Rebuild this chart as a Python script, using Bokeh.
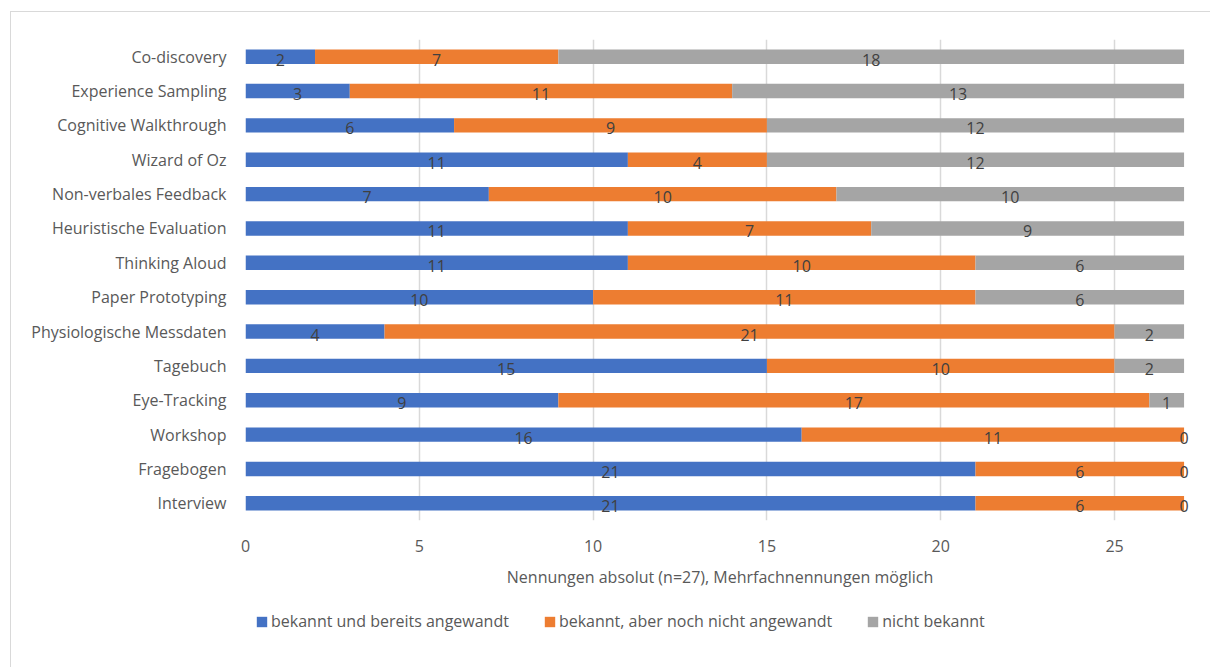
from bokeh.plotting import figure
from bokeh.layouts import column
from bokeh.models import (ColumnDataSource, FactorRange, Legend, LegendItem,
                          FixedTicker, Range1d)
from bokeh.core.properties import value
from bokeh.embed import file_html
from bokeh.resources import INLINE

# Methods, listed from top to bottom
methods = ["Co-discovery", "Experience Sampling", "Cognitive Walkthrough",
           "Wizard of Oz", "Non-verbales Feedback", "Heuristische Evaluation",
           "Thinking Aloud", "Paper Prototyping", "Physiologische Messdaten",
           "Tagebuch", "Eye-Tracking", "Workshop", "Fragebogen", "Interview"]

angewandt = [2, 3, 6, 11, 7, 11, 11, 10, 4, 15, 9, 16, 21, 21]
nicht_angewandt = [7, 11, 9, 4, 10, 7, 10, 11, 21, 10, 17, 11, 6, 6]
nicht_bekannt = [18, 13, 12, 12, 10, 9, 6, 6, 2, 2, 1, 0, 0, 0]

series_names = ["bekannt und bereits angewandt",
                "bekannt, aber noch nicht angewandt",
                "nicht bekannt"]
series_values = [angewandt, nicht_angewandt, nicht_bekannt]
colors = ["#4472C4", "#ED7D31", "#A5A5A5"]

x_ticks = [0, 5, 10, 15, 20, 25]
x_max = 27
x_room = 0.3  # room right of the bars so end labels are not cut

FONT = "Open Sans"
TEXT = "#595959"

p = figure(width=1199, height=580, output_backend="svg", toolbar_location=None,
           y_range=FactorRange(factors=list(reversed(methods)), range_padding=0),
           x_range=Range1d(0, x_max + x_room),
           min_border_left=234, min_border_right=16,
           min_border_top=27, min_border_bottom=72)
p.outline_line_color = None
p.background_fill_color = "white"
p.border_fill_color = "white"

# Stacked horizontal bars, drawn segment by segment with labels
left = [0] * len(methods)
for name, vals, col in zip(series_names, series_values, colors):
    right = [l + v for l, v in zip(left, vals)]
    src = ColumnDataSource(dict(
        y=methods, left=left, right=right,
        mid=[(l + r) / 2 for l, r in zip(left, right)],
        lab=[str(v) for v in vals]))
    p.hbar(y="y", left="left", right="right", height=0.42, source=src,
           fill_color=col, line_color=None)
    p.text(x="mid", y="y", text="lab", source=src, text_align="center",
           text_baseline="middle", y_offset=3, text_color="#404040",
           text_font=value(FONT), text_font_size="16px")
    left = right

# Axes
p.xaxis.ticker = FixedTicker(ticks=x_ticks)
p.xaxis.axis_line_color = None
p.xaxis.major_tick_line_color = None
p.xaxis.minor_tick_line_color = None
p.xaxis.major_label_text_font = FONT
p.xaxis.major_label_text_font_size = "16px"
p.xaxis.major_label_text_color = TEXT
p.xaxis.major_label_standoff = 13
p.xaxis.axis_label = "Nennungen absolut (n=27), Mehrfachnennungen möglich"
p.xaxis.axis_label_text_font = FONT
p.xaxis.axis_label_text_font_size = "16px"
p.xaxis.axis_label_text_font_style = "normal"
p.xaxis.axis_label_text_color = TEXT
p.xaxis.axis_label_standoff = 11

p.yaxis.axis_line_color = None
p.yaxis.major_tick_line_color = None
p.yaxis.minor_tick_line_color = None
p.yaxis.major_label_text_font = FONT
p.yaxis.major_label_text_font_size = "16px"
p.yaxis.major_label_text_color = TEXT
p.yaxis.major_label_standoff = 13

p.ygrid.grid_line_color = None
p.xgrid.grid_line_color = "#D9D9D9"
p.xgrid.grid_line_width = 1.5
p.xgrid.ticker = FixedTicker(ticks=x_ticks)

# Legend strip under the chart (its frame lines up with the chart frame).
# Each swatch renderer holds a single zero-width bar, so only the legend
# entry is visible.
lg = figure(width=1199, height=75, output_backend="svg", toolbar_location=None,
            x_axis_type=None, y_axis_type=None, x_range=(0, 1), y_range=(0, 1),
            min_border=0)
lg.outline_line_color = None
lg.grid.grid_line_color = None
lg.border_fill_color = "white"
swatches = []
for col in colors:
    stub = ColumnDataSource(dict(y=[0.5], left=[0], right=[0]))
    swatches.append(lg.hbar(y="y", left="left", right="right", height=0.1,
                            source=stub, fill_color=col, line_color=None))
legend = Legend(items=[LegendItem(label=n, renderers=[r])
                       for n, r in zip(series_names, swatches)],
                orientation="horizontal", location=(10, 35),
                glyph_width=13, glyph_height=13, label_standoff=3, spacing=34,
                label_height=20,
                label_text_font=FONT, label_text_font_size="16px",
                label_text_color=TEXT, border_line_color=None,
                background_fill_alpha=0, padding=0, margin=0)
lg.add_layout(legend, "center")

layout = column(p, lg, spacing=0, margin=(11, 0, 0, 10),
                styles={"border-left": "1.5px solid #D9D9D9",
                        "border-top": "1.5px solid #D9D9D9"})

open("out.html", "w").write(file_html(layout, INLINE))
